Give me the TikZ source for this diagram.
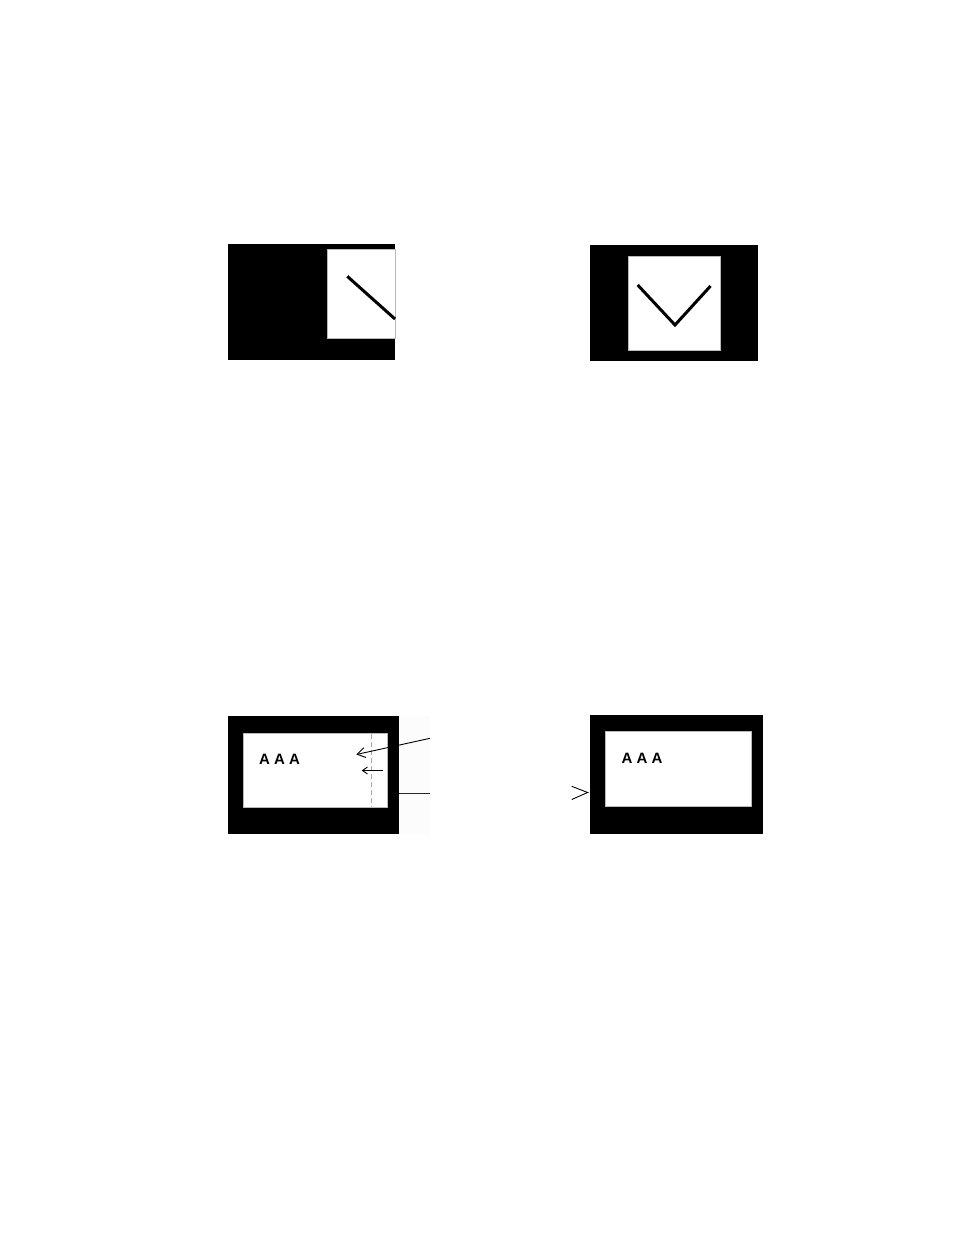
\documentclass[tikz,border=0pt]{standalone}
\usepackage{fontspec}
\setmainfont{Liberation Sans}
\usetikzlibrary{arrows.meta}
\begin{document}
\begin{tikzpicture}[x=1pt,y=-1pt,
  blackbox/.style={fill=black,draw=none,inner sep=0pt,outer sep=0pt},
  whitebox/.style={fill=white,draw=gray!55,line width=0.8pt,inner sep=0pt,outer sep=0pt},
  stroke/.style={line width=3pt,line cap=butt},
  label/.style={font=\fontsize{15}{17}\selectfont\bfseries,inner sep=0pt,anchor=west},
  pointer/.style={line width=0.9pt}]
\useasboundingbox (0,0) rectangle (954,1235);
\fill[white] (0,0) rectangle (954,1235);
% panel 1
\node[blackbox,minimum width=167pt,minimum height=116pt] (b1) at (311.5,302) {};
\node[whitebox,minimum width=67.5pt,minimum height=89pt] (w1) at (361.25,294) {};
\coordinate (s1a) at (347.3,276.3);
\coordinate (s1b) at (395,319);
\draw[stroke] (s1a) -- (s1b);
% panel 2
\node[blackbox,minimum width=168pt,minimum height=116.5pt] (b2) at (674,302.75) {};
\node[whitebox,minimum width=92.4pt,minimum height=94.7pt] (w2) at (674.5,303.35) {};
\coordinate (v1) at (637.7,285);
\coordinate (v2) at (675,325);
\coordinate (v3) at (710.5,286);
\draw[stroke,line join=miter] (v1) -- (v2) -- (v3);
% panel 3
\fill[gray!2] (399,716) rectangle (430,834);
\node[blackbox,minimum width=171pt,minimum height=118pt] (b3) at (313.5,775) {};
\node[whitebox,minimum width=144.4pt,minimum height=74pt] (w3) at (315.5,770.3) {};
\draw[gray!70,line width=0.8pt,dash pattern=on 5pt off 3pt] (371.7,733.5) -- (371.7,807);
\node[label] (t3) at (259,759) {A A A};
\coordinate (a1s) at (430,738.3);
\coordinate (a1e) at (356.3,754.5);
\draw[pointer,-{Straight Barb[length=8pt,width=10pt,line width=0.9pt]}] (a1s) -- (a1e);
\coordinate (a2s) at (382.7,770.5);
\coordinate (a2e) at (361.7,770.5);
\draw[pointer,-{Straight Barb[length=5pt,width=7pt,line width=0.9pt]}] (a2s) -- (a2e);
\coordinate (l3s) at (399,793);
\coordinate (l3e) at (430,793);
\draw[gray!30!black,line width=1pt] (l3s) -- (l3e);
% panel 4
\node[blackbox,minimum width=173.3pt,minimum height=119pt] (b4) at (676.65,774.5) {};
\node[whitebox,minimum width=146pt,minimum height=75pt] (w4) at (678.7,769.2) {};
\node[label] (t4) at (621.5,758.5) {A A A};
\coordinate (h4a) at (571.7,786.3);
\coordinate (h4t) at (587.7,792.5);
\coordinate (h4b) at (571.7,799.5);
\draw[pointer] (h4a) -- (h4t) -- (h4b);
\end{tikzpicture}
\end{document}
